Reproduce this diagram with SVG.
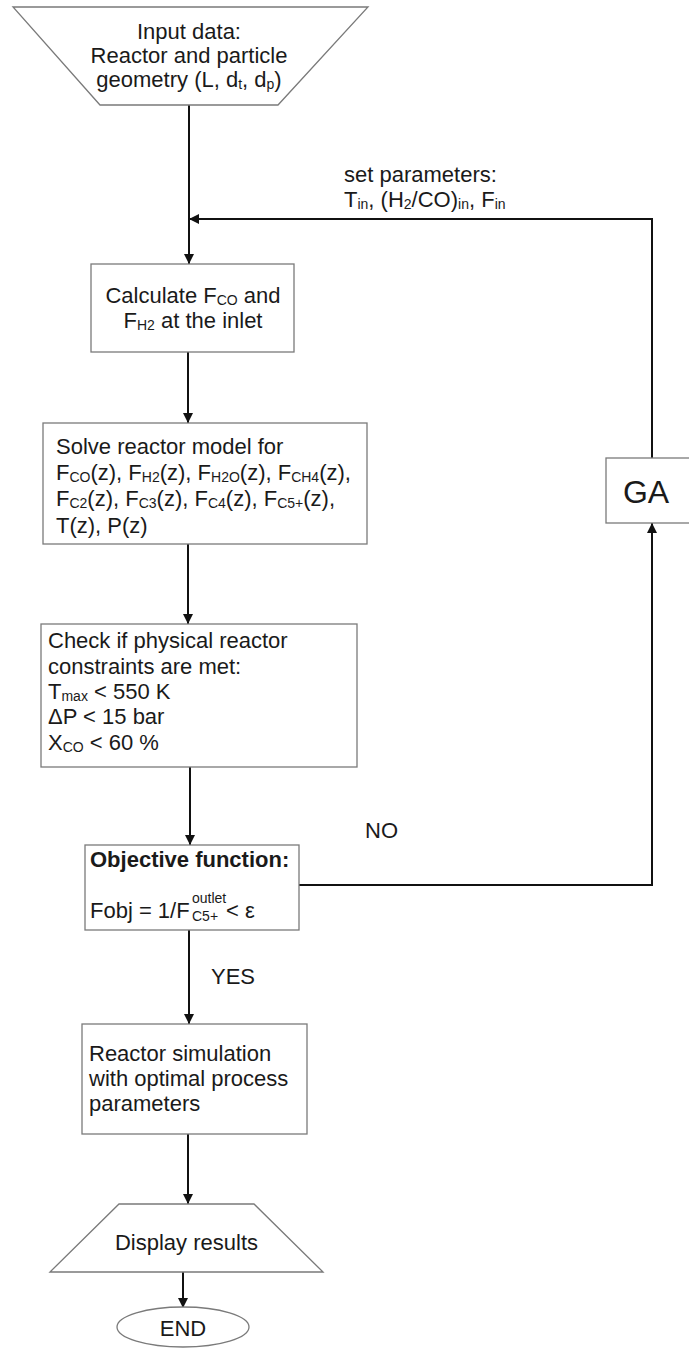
<svg xmlns="http://www.w3.org/2000/svg" width="689" height="1348" viewBox="0 0 689 1348">
<defs>
<style>
.shape{fill:#fff;stroke:#7a7a7a;stroke-width:1.3}
.conn{fill:none;stroke:#111;stroke-width:2}
text{font-family:"Liberation Sans",Arial,sans-serif;font-size:22px;fill:#1a1a1a}
.s{font-size:14px}
.c{text-anchor:middle}
.b{font-weight:bold}
</style>
<marker id="ah" viewBox="0 0 10 10" refX="10" refY="5" markerWidth="10" markerHeight="10" markerUnits="userSpaceOnUse" orient="auto">
<path d="M0,0 L10,5 L0,10 Z" fill="#111"/>
</marker>
</defs>
<rect width="689" height="1348" fill="#fff"/>

<g id="connectors">
<line class="conn" x1="189" y1="105" x2="189" y2="264" marker-end="url(#ah)"/>
<polyline class="conn" points="652,458 652,219 189,219" marker-end="url(#ah)"/>
<line class="conn" x1="188" y1="352" x2="188" y2="423" marker-end="url(#ah)"/>
<line class="conn" x1="188" y1="544" x2="188" y2="624" marker-end="url(#ah)"/>
<line class="conn" x1="190" y1="767" x2="190" y2="845" marker-end="url(#ah)"/>
<polyline class="conn" points="299,885 652,885 652,523" marker-end="url(#ah)"/>
<line class="conn" x1="189" y1="930" x2="189" y2="1024" marker-end="url(#ah)"/>
<line class="conn" x1="188" y1="1134" x2="188" y2="1204" marker-end="url(#ah)"/>
<line class="conn" x1="183" y1="1272" x2="183" y2="1308" marker-end="url(#ah)"/>
<text x="344" y="182">set parameters:</text>
<text x="344" y="207">T<tspan class="s" dy="2">in</tspan><tspan dy="-2">, (H</tspan><tspan class="s" dy="2">2</tspan><tspan dy="-2">/CO)</tspan><tspan class="s" dy="2">in</tspan><tspan dy="-2">, F</tspan><tspan class="s" dy="2">in</tspan></text>
<text x="365" y="838">NO</text>
<text x="211" y="984">YES</text>
</g>

<g id="input">
<polygon class="shape" points="13,7 368,7 278,105 100,105"/>
<text class="c" x="189" y="39">Input data:</text>
<text class="c" x="189" y="63">Reactor and particle</text>
<text class="c" x="189" y="87">geometry (L, d<tspan class="s" dy="2">t</tspan><tspan dy="-2">, d</tspan><tspan class="s" dy="2">p</tspan><tspan dy="-2">)</tspan></text>
</g>

<g id="calculate">
<rect class="shape" x="91" y="264" width="203" height="88"/>
<text class="c" x="193" y="303">Calculate F<tspan class="s" dy="2">CO</tspan><tspan dy="-2"> and</tspan></text>
<text class="c" x="193" y="328">F<tspan class="s" dy="2">H2</tspan><tspan dy="-2"> at the inlet</tspan></text>
</g>

<g id="solve">
<rect class="shape" x="43" y="423" width="324" height="121"/>
<text x="56" y="454">Solve reactor model for</text>
<text x="56" y="480">F<tspan class="s" dy="2">CO</tspan><tspan dy="-2">(z), F</tspan><tspan class="s" dy="2">H2</tspan><tspan dy="-2">(z), F</tspan><tspan class="s" dy="2">H2O</tspan><tspan dy="-2">(z), F</tspan><tspan class="s" dy="2">CH4</tspan><tspan dy="-2">(z),</tspan></text>
<text x="56" y="506">F<tspan class="s" dy="2">C2</tspan><tspan dy="-2">(z), F</tspan><tspan class="s" dy="2">C3</tspan><tspan dy="-2">(z), F</tspan><tspan class="s" dy="2">C4</tspan><tspan dy="-2">(z), F</tspan><tspan class="s" dy="2">C5+</tspan><tspan dy="-2">(z),</tspan></text>
<text x="56" y="533">T(z), P(z)</text>
</g>

<g id="check">
<rect class="shape" x="41" y="624" width="316" height="143"/>
<text x="48" y="648">Check if physical reactor</text>
<text x="48" y="674">constraints are met:</text>
<text x="48" y="699">T<tspan class="s" dy="2">max</tspan><tspan dy="-2"> &lt; 550 K</tspan></text>
<text x="48" y="724">ΔP &lt; 15 bar</text>
<text x="48" y="750">X<tspan class="s" dy="2">CO</tspan><tspan dy="-2"> &lt; 60 %</tspan></text>
</g>

<g id="objective">
<rect class="shape" x="85" y="845" width="214" height="85"/>
<text class="b" x="90" y="867">Objective function:</text>
<text x="90" y="918">Fobj = 1/F</text>
<text class="s" x="192" y="903">outlet</text>
<text class="s" x="192" y="921">C5+</text>
<text x="226" y="918">&lt; ε</text>
</g>

<g id="ga">
<rect class="shape" x="606" y="458" width="90" height="65"/>
<text class="c" x="646" y="503" style="font-size:32px">GA</text>
</g>

<g id="simulation">
<rect class="shape" x="82" y="1024" width="225" height="110"/>
<text x="89" y="1061">Reactor simulation</text>
<text x="89" y="1086">with optimal process</text>
<text x="89" y="1111">parameters</text>
</g>

<g id="display">
<polygon class="shape" points="119,1204 254,1204 323,1272 50,1272"/>
<text class="c" x="186.5" y="1250">Display results</text>
</g>

<g id="end">
<ellipse class="shape" cx="183" cy="1327" rx="66" ry="20"/>
<text class="c" x="183" y="1336">END</text>
</g>
</svg>
